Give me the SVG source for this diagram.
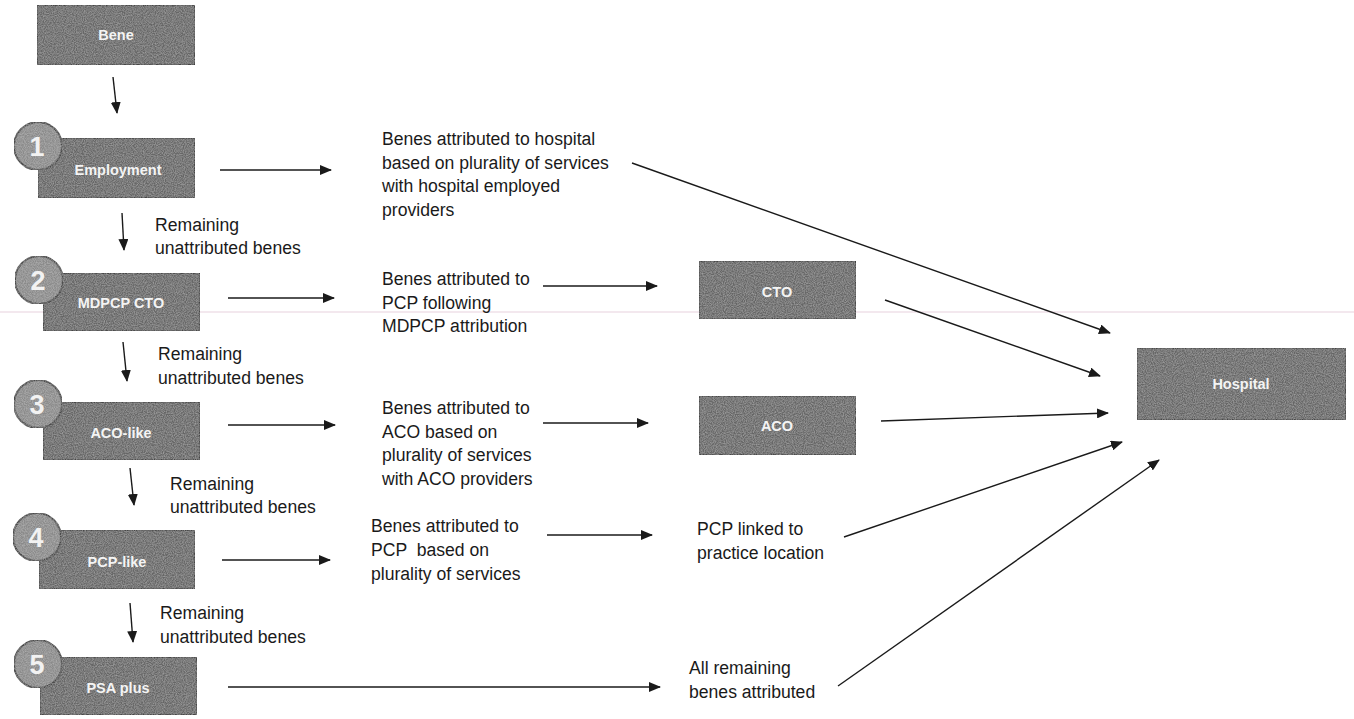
<svg xmlns="http://www.w3.org/2000/svg" width="1354" height="719" viewBox="0 0 1354 719">
<style>
.box{fill:#666666;stroke:#3a3a3a;stroke-width:1.5;filter:url(#grain)}
.circ{fill:#8a8a8a;stroke:#4a4a4a;stroke-width:2;filter:url(#grain)}
.bt{font-family:"Liberation Sans",Arial,sans-serif;font-size:14.5px;font-weight:bold;fill:#f4f4f4;text-anchor:middle}
.num{font-family:"Liberation Sans",Arial,sans-serif;font-size:27px;font-weight:bold;fill:#f2f2f2;text-anchor:middle}
.lbl{font-family:"Liberation Sans",Arial,sans-serif;font-size:17.6px;fill:#1a1a1a}
.ln{stroke:#1a1a1a;stroke-width:1.4;fill:none;marker-end:url(#ah)}
</style>
<defs>
<marker id="ah" markerUnits="userSpaceOnUse" markerWidth="12" markerHeight="10" refX="11" refY="5" orient="auto">
<path d="M0,0 L12,5 L0,10 Z" fill="#1a1a1a"/>
</marker>
<filter id="grain" x="0" y="0" width="100%" height="100%">
<feTurbulence type="fractalNoise" baseFrequency="0.9" numOctaves="2" seed="3" result="n"/>
<feColorMatrix in="n" type="matrix" values="0 0 0 0 1  0 0 0 0 1  0 0 0 0 1  0 0 0 0.4 -0.12" result="g"/>
<feComposite in="g" in2="SourceGraphic" operator="in" result="gi"/>
<feMerge><feMergeNode in="SourceGraphic"/><feMergeNode in="gi"/></feMerge>
</filter>
</defs>
<rect width="1354" height="719" fill="#ffffff"/>
<line x1="0" y1="312" x2="1354" y2="312" stroke="#e8d2de" stroke-width="1.2"/>

<g id="connectors">
<line class="ln" x1="113" y1="77" x2="117" y2="113"/>
<line class="ln" x1="122" y1="213" x2="124" y2="250"/>
<line class="ln" x1="123" y1="342" x2="127" y2="381"/>
<line class="ln" x1="130" y1="468" x2="134" y2="505"/>
<line class="ln" x1="130" y1="603" x2="133" y2="642"/>
<line class="ln" x1="220" y1="170" x2="331" y2="170"/>
<line class="ln" x1="228" y1="298" x2="334" y2="298"/>
<line class="ln" x1="543" y1="286" x2="657" y2="286"/>
<line class="ln" x1="228" y1="425" x2="335" y2="425"/>
<line class="ln" x1="543" y1="423" x2="648" y2="423"/>
<line class="ln" x1="222" y1="560" x2="330" y2="560"/>
<line class="ln" x1="547" y1="535" x2="652" y2="535"/>
<line class="ln" x1="228" y1="687" x2="660" y2="687"/>
<line class="ln" x1="632" y1="163" x2="1110" y2="333"/>
<line class="ln" x1="885" y1="300" x2="1100" y2="376"/>
<line class="ln" x1="881" y1="421" x2="1108" y2="413"/>
<line class="ln" x1="844" y1="537" x2="1122" y2="442"/>
<line class="ln" x1="838" y1="686" x2="1159" y2="460"/>
</g>

<g id="bene"><rect class="box" x="37" y="5" width="158" height="60"/><text class="bt" x="116" y="40">Bene</text></g>

<g id="step1"><rect class="box" x="38" y="138" width="157" height="60"/><text class="bt" x="118" y="175">Employment</text>
<circle class="circ" cx="38" cy="146" r="24"/><text class="num" x="37" y="156">1</text></g>

<g id="step2"><rect class="box" x="43" y="273" width="157" height="58"/><text class="bt" x="121" y="308">MDPCP CTO</text>
<circle class="circ" cx="39" cy="280" r="24"/><text class="num" x="38" y="290">2</text></g>

<g id="step3"><rect class="box" x="43" y="402" width="157" height="58"/><text class="bt" x="121" y="438">ACO-like</text>
<circle class="circ" cx="38" cy="404" r="24"/><text class="num" x="37" y="414">3</text></g>

<g id="step4"><rect class="box" x="39" y="530" width="156" height="59"/><text class="bt" x="117" y="567">PCP-like</text>
<circle class="circ" cx="37" cy="537" r="24"/><text class="num" x="36" y="547">4</text></g>

<g id="step5"><rect class="box" x="40" y="657" width="157" height="58"/><text class="bt" x="118" y="693">PSA plus</text>
<circle class="circ" cx="38" cy="664" r="24"/><text class="num" x="37" y="674">5</text></g>

<g id="cto"><rect class="box" x="699" y="261" width="157" height="58"/><text class="bt" x="777" y="297">CTO</text></g>
<g id="aco"><rect class="box" x="699" y="396" width="157" height="59"/><text class="bt" x="777" y="431">ACO</text></g>
<g id="hospital"><rect class="box" x="1137" y="348" width="209" height="72"/><text class="bt" x="1241" y="389">Hospital</text></g>

<g id="remaining-labels">
<text class="lbl" x="155" y="231">Remaining</text><text class="lbl" x="155" y="254">unattributed benes</text>
<text class="lbl" x="158" y="360">Remaining</text><text class="lbl" x="158" y="384">unattributed benes</text>
<text class="lbl" x="170" y="490">Remaining</text><text class="lbl" x="170" y="513">unattributed benes</text>
<text class="lbl" x="160" y="619">Remaining</text><text class="lbl" x="160" y="643">unattributed benes</text>
</g>

<g id="text-employment"><text class="lbl" x="382" y="145">Benes attributed to hospital</text><text class="lbl" x="382" y="169">based on plurality of services</text><text class="lbl" x="382" y="192">with hospital employed</text><text class="lbl" x="382" y="216">providers</text></g>
<g id="text-mdpcp"><text class="lbl" x="382" y="285">Benes attributed to</text><text class="lbl" x="382" y="309">PCP following</text><text class="lbl" x="382" y="332">MDPCP attribution</text></g>
<g id="text-aco"><text class="lbl" x="382" y="414">Benes attributed to</text><text class="lbl" x="382" y="438">ACO based on</text><text class="lbl" x="382" y="461">plurality of services</text><text class="lbl" x="382" y="485">with ACO providers</text></g>
<g id="text-pcp"><text class="lbl" x="371" y="532">Benes attributed to</text><text class="lbl" x="371" y="556" xml:space="preserve">PCP  based on</text><text class="lbl" x="371" y="580">plurality of services</text></g>
<g id="text-pcp-linked"><text class="lbl" x="697" y="535">PCP linked to</text><text class="lbl" x="697" y="559">practice location</text></g>
<g id="text-all"><text class="lbl" x="689" y="674">All remaining</text><text class="lbl" x="689" y="698">benes attributed</text></g>
</svg>
